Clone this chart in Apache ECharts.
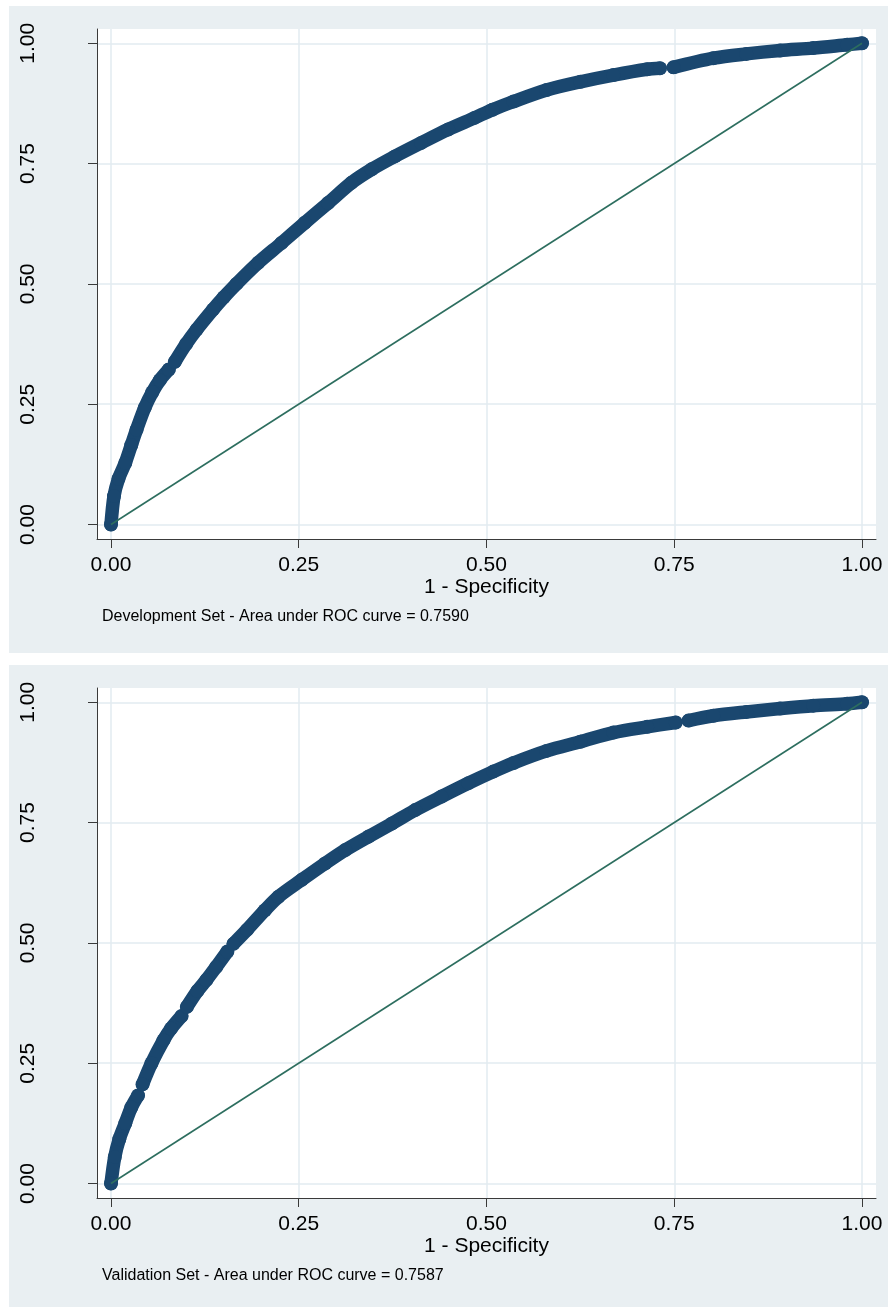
<!DOCTYPE html>
<html>
<head>
<meta charset="utf-8">
<script src="https://cdn.jsdelivr.net/npm/echarts@6/dist/echarts.min.js"></script>
<style>
  html, body { margin: 0; padding: 0; background: #ffffff; }
  #chart { width: 888px; height: 1307px; }
</style>
</head>
<body>
<div id="chart"></div>
<script>
// ---- Data ----
const tickValues = [0, 0.25, 0.5, 0.75, 1];
const tickLabels = ['0.00', '0.25', '0.50', '0.75', '1.00'];
const xTitle = '1 - Specificity';
const devNote = 'Development Set - Area under ROC curve = 0.7590';
const valNote = 'Validation Set - Area under ROC curve = 0.7587';

// Development set ROC points (null = small visible notch between markers)
const devFpr = [0, 0.004, 0.010, 0.019, 0.027, 0.034, 0.045, 0.055, 0.065, 0.077, null, 0.085, 0.100, 0.114, 0.136, 0.150, 0.167, 0.196, 0.227, 0.258, 0.289, 0.320, 0.347, 0.378, 0.413, 0.449, 0.484, 0.508, 0.536, 0.580, 0.625, 0.669, 0.714, 0.731, null, 0.749, 0.802, 0.846, 0.891, 0.935, 0.980, 1.0];
const devTpr = [0, 0.059, 0.095, 0.128, 0.165, 0.197, 0.243, 0.275, 0.300, 0.322, null, 0.338, 0.375, 0.405, 0.447, 0.472, 0.500, 0.544, 0.585, 0.627, 0.668, 0.710, 0.738, 0.765, 0.793, 0.821, 0.845, 0.862, 0.879, 0.903, 0.920, 0.934, 0.946, 0.948, null, 0.950, 0.969, 0.978, 0.985, 0.990, 0.997, 1.0];

// Validation set ROC points
const valFpr = [0, 0.005, 0.011, 0.019, 0.027, 0.036, null, 0.042, 0.054, 0.070, 0.080, 0.094, null, 0.101, 0.115, 0.127, 0.140, 0.155, null, 0.163, 0.181, 0.205, 0.223, 0.254, 0.285, 0.312, 0.343, 0.374, 0.405, 0.440, 0.476, 0.509, 0.536, 0.580, 0.625, 0.669, 0.714, 0.752, null, 0.769, 0.802, 0.846, 0.891, 0.935, 0.980, 1.0];
const valTpr = [0, 0.055, 0.092, 0.125, 0.158, 0.183, null, 0.206, 0.250, 0.298, 0.322, 0.348, null, 0.367, 0.400, 0.423, 0.450, 0.482, null, 0.498, 0.527, 0.568, 0.596, 0.631, 0.665, 0.693, 0.721, 0.748, 0.776, 0.804, 0.832, 0.856, 0.874, 0.899, 0.918, 0.937, 0.949, 0.958, null, 0.962, 0.972, 0.980, 0.987, 0.993, 0.997, 1.0];

// Reference (chance) line
const refX = [0, 1];
const refY = [0, 1];

// ---- Build chart ----
function pairs(xs, ys) {
  return xs.map((x, i) => (x === null || ys[i] === null) ? ['-', '-'] : [x, ys[i]]);
}

const FONT = '"Liberation Sans", Arial, sans-serif';
const NAVY = '#1a476f';
const TEAL = '#2d6e5f';
const AXIS = '#3a3a3a';
const GRID = '#e2ebf0';
const PANEL = '#e9eff2';

function makeX(gi) {
  return {
    type: 'value', gridIndex: gi,
    min: -0.01864, max: 1.01864,
    name: xTitle, nameLocation: 'middle', nameGap: 38,
    nameTextStyle: { fontFamily: FONT, fontSize: 21, color: '#000' },
    axisLine: { show: true, onZero: false, lineStyle: { color: AXIS, width: 1 } },
    axisTick: { show: true, length: 9, customValues: tickValues, lineStyle: { color: AXIS, width: 1 } },
    axisLabel: {
      customValues: tickValues, margin: 16,
      fontFamily: FONT, fontSize: 21, color: '#000',
      formatter: v => tickLabels[tickValues.indexOf(Math.round(v * 100) / 100)] ?? ''
    },
    splitLine: { show: true, lineStyle: { color: GRID, width: 1.5 } }
  };
}
function makeY(gi) {
  return {
    type: 'value', gridIndex: gi,
    min: -0.0301, max: 1.0297,
    axisLine: { show: true, onZero: false, lineStyle: { color: AXIS, width: 1 } },
    axisTick: { show: true, length: 9, customValues: tickValues, lineStyle: { color: AXIS, width: 1 } },
    axisLabel: {
      customValues: tickValues, margin: 58, rotate: 90,
      fontFamily: FONT, fontSize: 21, color: '#000',
      formatter: v => tickLabels[tickValues.indexOf(Math.round(v * 100) / 100)] ?? ''
    },
    splitLine: { show: true, lineStyle: { color: GRID, width: 1.5 } }
  };
}
function rocSeries(gi, xs, ys) {
  return {
    type: 'line', xAxisIndex: gi, yAxisIndex: gi,
    data: pairs(xs, ys), smooth: 0.3,
    symbol: 'circle', symbolSize: 14, showSymbol: true, showAllSymbol: true,
    itemStyle: { color: NAVY, borderWidth: 0 },
    lineStyle: { color: NAVY, width: 13.5, cap: 'round', join: 'round' },
    connectNulls: false, silent: true, z: 2
  };
}
function refSeries(gi) {
  return {
    type: 'line', xAxisIndex: gi, yAxisIndex: gi,
    data: pairs(refX, refY), symbol: 'none',
    lineStyle: { color: TEAL, width: 1.6 }, silent: true, z: 3
  };
}

const chart = echarts.init(document.getElementById('chart'), null, { renderer: 'canvas' });
chart.setOption({
  animation: false,
  backgroundColor: '#ffffff',
  graphic: [
    { type: 'rect', z: -10, silent: true, shape: { x: 9, y: 6, width: 879, height: 647 }, style: { fill: PANEL } },
    { type: 'rect', z: -10, silent: true, shape: { x: 9, y: 665, width: 879, height: 650 }, style: { fill: PANEL } },
    { type: 'text', x: 102, y: 617, silent: true, style: { text: devNote, fontFamily: FONT, fontSize: 16, fill: '#000', verticalAlign: 'middle' } },
    { type: 'text', x: 102, y: 1276, silent: true, style: { text: valNote, fontFamily: FONT, fontSize: 16, fill: '#000', verticalAlign: 'middle' } }
  ],
  grid: [
    { left: 97, top: 29, width: 779, height: 510, show: true, backgroundColor: '#ffffff', borderWidth: 0 },
    { left: 97, top: 688, width: 779, height: 510, show: true, backgroundColor: '#ffffff', borderWidth: 0 }
  ],
  xAxis: [makeX(0), makeX(1)],
  yAxis: [makeY(0), makeY(1)],
  series: [
    rocSeries(0, devFpr, devTpr), refSeries(0),
    rocSeries(1, valFpr, valTpr), refSeries(1)
  ]
});
</script>
</body>
</html>
